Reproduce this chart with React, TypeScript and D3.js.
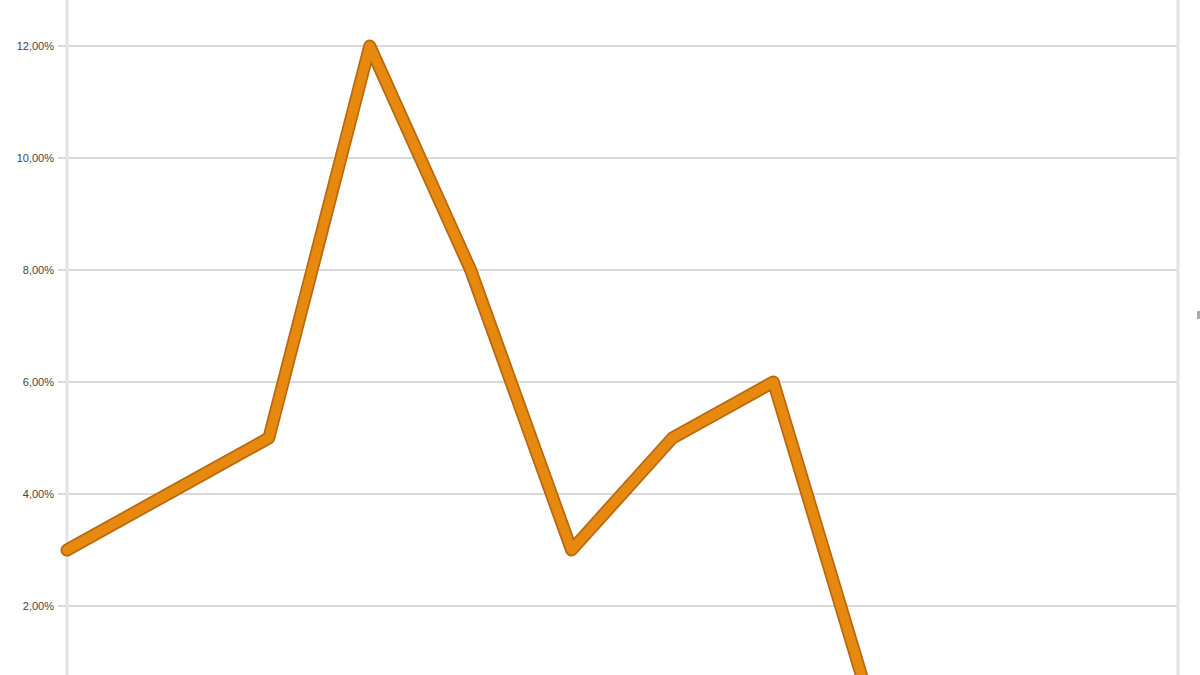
import React from "react";
import * as d3 from "d3";

const categories = ["1", "2", "3", "4", "5", "6", "7", "8", "9", "10", "11", "12"];
const values = [3, 4, 5, 12, 8, 3, 5, 6, 0];
const yTicks = [2, 4, 6, 8, 10, 12];

export default function App() {
  const W = 1200, H = 675;
  const x = d3.scalePoint<string>().domain(categories).range([67, 1177]);
  const y = d3.scaleLinear().domain([0, 12]).range([718, 46]);
  const line = d3
    .line<number>()
    .x((_, i) => x(categories[i]) as number)
    .y((d) => y(d));
  const path = line(values) || "";
  const fmt = (v: number) => v.toFixed(2).replace(".", ",") + "%";
  return (
    <div style={{ position: "absolute", left: 0, top: 0 }}>
      <svg width={W} height={H} style={{ display: "block", background: "#fff" }}>
        {yTicks.map((t) => (
          <g key={t}>
            <line x1={58} x2={1177} y1={y(t)} y2={y(t)} stroke="#d9d9d9" strokeWidth={2} />
            <text
              x={54}
              y={y(t)}
              dy="0.35em"
              textAnchor="end"
              fontFamily="Liberation Sans, Arial, sans-serif"
              fontSize={11}
              fill="#444"
            >
              {fmt(t)}
            </text>
          </g>
        ))}
        <line x1={67} x2={67} y1={0} y2={H} stroke="#e3e3e3" strokeWidth={3} />
        <line x1={1178} x2={1178} y1={0} y2={H} stroke="#e3e3e3" strokeWidth={3} />
        <rect x={1197} y={311} width={4} height={8} fill="#aaa" />
        <path d={path} fill="none" stroke="#b8680f" strokeWidth={13} strokeLinejoin="round" strokeLinecap="round" />
        <path d={path} fill="none" stroke="#e8890f" strokeWidth={9.5} strokeLinejoin="round" strokeLinecap="round" />
      </svg>
    </div>
  );
}
